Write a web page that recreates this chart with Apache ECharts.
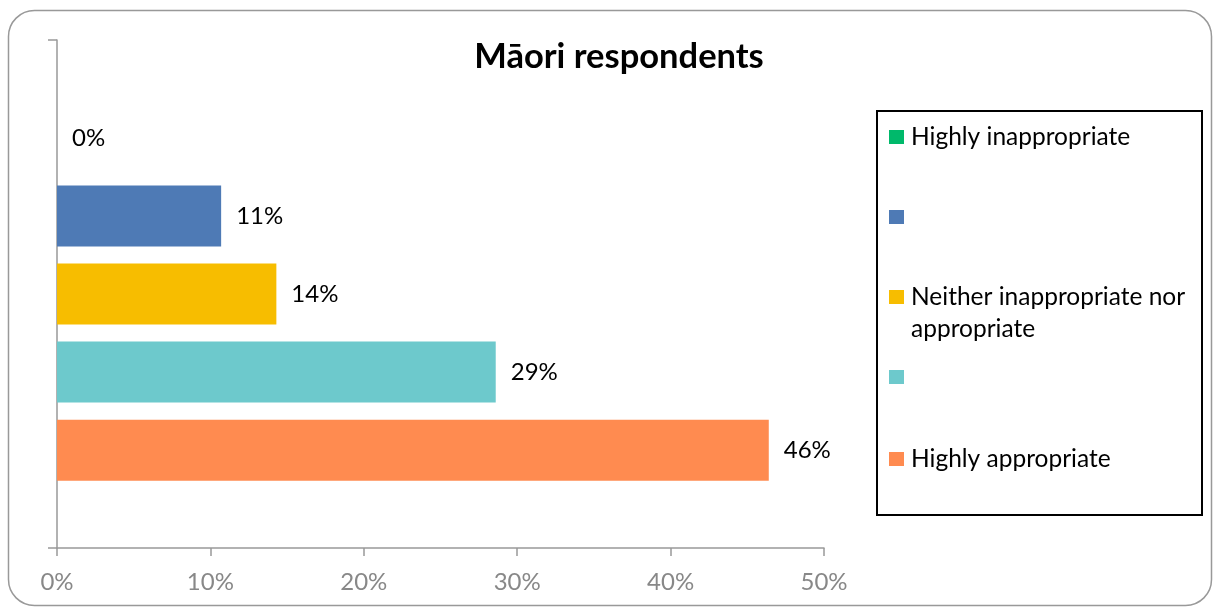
<!DOCTYPE html>
<html>
<head>
<meta charset="utf-8">
<script src="https://cdn.jsdelivr.net/npm/echarts@6/dist/echarts.min.js"></script>
<style>
html,body{margin:0;padding:0;background:#fff;}
#c{width:1216px;height:610px;}
</style>
</head>
<body>
<div id="c"></div>
<script>
const title = 'Māori respondents';
const categories = [''];
const seriesNames = ['Highly inappropriate', ' ', 'Neither inappropriate nor appropriate', '  ', 'Highly appropriate'];
const seriesValues = [0, 10.7, 14.3, 28.6, 46.4];
const seriesColors = ['#00B96B', '#4E7AB5', '#F7BD00', '#6DC9CC', '#FF8B50'];
const xTicks = [0, 10, 20, 30, 40, 50];

const FONT = 'Lato';
const chart = echarts.init(document.getElementById('c'));

const legendTops = [137, 217, 297, 377, 459];
const legends = seriesNames.map((n, i) => ({
  data: [n],
  left: 889,
  top: legendTops[i] - (i === 2 ? 48 : 16),
  orient: 'vertical',
  padding: 0,
  itemWidth: 15,
  itemHeight: 14,
  itemGap: 0,
  icon: 'rect',
  selectedMode: false,
  formatter: (name) => name === 'Neither inappropriate nor appropriate' ? '\nNeither inappropriate nor\nappropriate' : name,
  textStyle: { fontFamily: FONT, fontSize: 24.5, color: '#000', lineHeight: 32, padding: [0, 0, 0, 2] }
}));

chart.setOption({
  animation: false,
  title: {
    text: title,
    left: 614, top: 34, textAlign: 'center',
    textStyle: { fontFamily: FONT, fontWeight: 'bold', fontSize: 34.5, color: '#000' }
  },
  graphic: [
    { type: 'rect', shape: { x: 8.5, y: 10.5, width: 1203, height: 595, r: 26 }, style: { fill: 'none', stroke: '#999', lineWidth: 1.5 }, silent: true, z: -1 },
    { type: 'rect', shape: { x: 877, y: 111, width: 325, height: 404 }, style: { fill: 'none', stroke: '#000', lineWidth: 2 }, silent: true }
  ],
  legend: legends,
  grid: { left: 57, right: 392, top: 40, bottom: 62, containLabel: false },
  xAxis: {
    type: 'value', min: 0, max: 50, interval: 10,
    axisLine: { show: true, lineStyle: { color: '#999', width: 1.5 } },
    axisTick: { show: true, length: 8, lineStyle: { color: '#999', width: 1.5 } },
    splitLine: { show: false },
    axisLabel: { formatter: '{value}%', fontFamily: FONT, fontSize: 24, color: '#888', margin: 22 }
  },
  yAxis: {
    type: 'category', data: categories,
    axisLine: { show: true, lineStyle: { color: '#999', width: 1.5 } },
    axisTick: { show: true, length: 9, lineStyle: { color: '#999', width: 1.5 } },
    axisLabel: { show: false }
  },
  series: seriesNames.map((n, i) => ({
    type: 'bar', name: n,
    data: [seriesValues[i]],
    barWidth: 61, barGap: '28%',
    itemStyle: { color: seriesColors[i] },
    label: {
      show: true, position: 'right', distance: 15,
      formatter: (p) => Math.round(p.value) + '%',
      fontFamily: FONT, fontSize: 24, color: '#000'
    }
  }))
});
</script>
</body>
</html>
